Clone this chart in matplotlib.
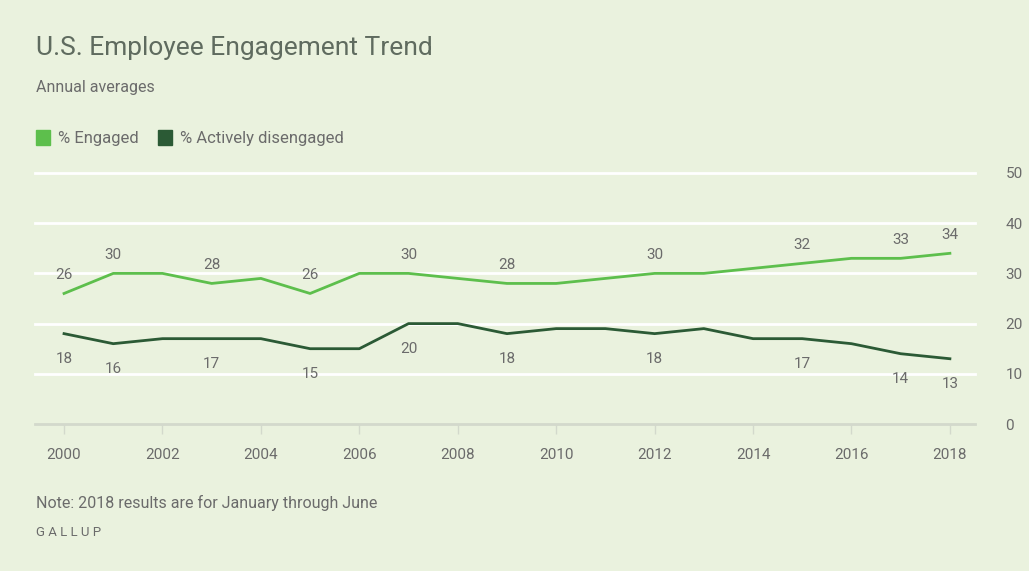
import matplotlib.pyplot as plt
from matplotlib.patches import Patch

# Data.
years = list(range(2000, 2019))
engaged = [26, 30, 30, 28, 29, 26, 30, 30, 29, 28, 28, 29, 30, 30, 31, 32, 33, 33, 34]
disengaged = [18, 16, 17, 17, 17, 15, 15, 20, 20, 18, 19, 19, 18, 19, 17, 17, 16, 14, 13]
labelled_years = [2000, 2001, 2003, 2005, 2007, 2009, 2012, 2015, 2017, 2018]
y_ticks = [0, 10, 20, 30, 40, 50]
x_ticks = list(range(2000, 2019, 2))

bg = '#eaf2de'
light = '#5dbf4c'
dark = '#2b5a35'
grey = '#6b6b6b'

plt.rcParams['font.family'] = ['Roboto', 'DejaVu Sans']

fig = plt.figure(figsize=(10.29, 5.71), dpi=100, facecolor=bg)
ax = fig.add_axes([35 / 1029, 1 - 424 / 571, (975 - 35) / 1029, (424 - 173) / 571])
ax.set_facecolor(bg)
ax.set_xlim(1999.41, 2018.51)
ax.set_ylim(0, 50)

for s in ax.spines.values():
    s.set_visible(False)

# Gridlines
for v in y_ticks[1:]:
    ax.axhline(v, color='white', lw=2, zorder=1, clip_on=False)
ax.axhline(0, color='#d3d9cc', lw=2, zorder=1, clip_on=False)

ax.plot(years, engaged, color=light, lw=2, zorder=3, clip_on=False)
ax.plot(years, disengaged, color=dark, lw=2, zorder=3, clip_on=False)

for yr, v in zip(years, engaged):
    if yr in labelled_years:
        ax.annotate(str(v), (yr, v), xytext=(0, 13), textcoords='offset points',
                    ha='center', va='center', fontsize=11, color=grey)
for yr, v in zip(years, disengaged):
    if yr in labelled_years:
        ax.annotate(str(v), (yr, v), xytext=(0, -18), textcoords='offset points',
                    ha='center', va='center', fontsize=11, color=grey)

ax.set_xticks(x_ticks)
ax.set_xticklabels([str(x) for x in x_ticks])
ax.tick_params(axis='x', length=7, width=1, color='#d3d9cc', labelsize=11,
               labelcolor=grey, pad=10)
ax.yaxis.tick_right()
ax.set_yticks(y_ticks)
ax.tick_params(axis='y', length=0, labelsize=11, labelcolor=grey, pad=22)

fig.text(36 / 1029, 1 - 48 / 571, 'U.S. Employee Engagement Trend', fontsize=19,
         color='#5f6b5f', va='center', ha='left')
fig.text(36 / 1029, 1 - 88 / 571, 'Annual averages', fontsize=11.5, color=grey,
         va='center', ha='left')

handles = [Patch(color=light, label='% Engaged'),
           Patch(color=dark, label='% Actively disengaged')]
fig.legend(handles=handles, loc='center left', bbox_to_anchor=(36 / 1029, 1 - 138 / 571),
           ncol=2, frameon=False, fontsize=12, labelcolor=grey, borderpad=0,
           borderaxespad=0, handlelength=0.85, handleheight=1.0, handletextpad=0.45,
           columnspacing=1.2)

fig.text(36 / 1029, 1 - 503 / 571, 'Note: 2018 results are for January through June',
         fontsize=11.5, color=grey, va='center', ha='left')
fig.text(36 / 1029, 1 - 533 / 571, 'G A L L U P', fontsize=9.5, color=grey,
         va='center', ha='left')

fig.savefig('out.png', dpi=100, facecolor=bg)
